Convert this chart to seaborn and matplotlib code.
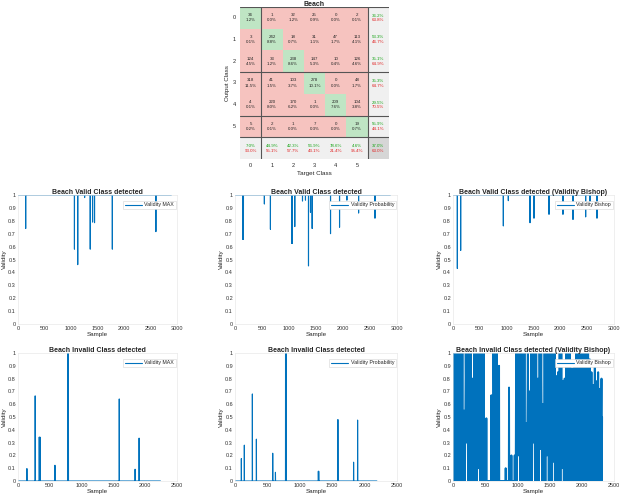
import numpy as np
import pandas as pd
import matplotlib
matplotlib.use("Agg")
import matplotlib.pyplot as plt
from matplotlib.colors import ListedColormap
import seaborn as sns


# =========================================
# DATA
# =========================================

classes = ["0", "1", "2", "3", "4", "5"]

# rows = output class, cols = target class
cm_counts = np.array([
    [34, 1, 32, 25, 0, 2],
    [3, 242, 18, 31, 47, 113],
    [124, 33, 238, 147, 10, 126],
    [318, 41, 103, 278, 0, 48],
    [4, 220, 170, 1, 209, 104],
    [5, 2, 1, 7, 0, 19],
])

y_ticks = [0, 0.1, 0.2, 0.3, 0.4, 0.5, 0.6, 0.7, 0.8, 0.9, 1]
y_tick_labels = ["0", "0.1", "0.2", "0.3", "0.4", "0.5", "0.6", "0.7", "0.8", "0.9", "1"]
x_ticks_valid = [0, 500, 1000, 1500, 2000, 2500, 3000]
x_ticks_invalid = [0, 500, 1000, 1500, 2000, 2500]

# valid class detected, baseline 1 with drops
max_valid_n = 2894
max_valid_idx = [145, 1065, 1127, 1257, 1363, 1407, 1444, 1780, 2602]
max_valid_val = [0.74, 0.58, 0.46, 0.98, 0.58, 0.79, 0.785, 0.58, 0.716]

prob_valid_n = 2877
prob_valid_idx = [145, 156, 544, 656, 1050, 1060, 1107, 1250, 1305, 1361,
                  1398, 1429, 1769, 1936, 2072, 2289, 2592]
prob_valid_val = [0.656, 0.656, 0.93, 0.734, 0.625, 0.625, 0.755, 0.953, 0.96, 0.45,
                  0.866, 0.74, 0.70, 0.75, 0.96, 0.86, 0.82]

bishop_valid_n = 2732
bishop_valid_idx = [81, 143, 938, 1031, 1435, 1509, 1789, 2049, 2236, 2472, 2552, 2683]
bishop_valid_val = [0.43, 0.57, 0.76, 0.956, 0.785, 0.82, 0.85, 0.85, 0.81, 0.83, 0.89, 0.82]

# invalid class detected, baseline 0 with peaks
max_invalid_n = 2240
max_invalid_idx = [140, 270, 334, 346, 581, 785, 792, 1592, 1841, 1904]
max_invalid_val = [0.097, 0.665, 0.343, 0.343, 0.123, 1.0, 1.0, 0.641, 0.092, 0.335]

prob_invalid_n = 2190
prob_invalid_idx = [98, 144, 268, 330, 582, 624, 780, 788, 1286, 1292, 1588, 1830, 1892]
prob_invalid_val = [0.175, 0.28, 0.68, 0.327, 0.217, 0.068, 1.0, 1.0, 0.076, 0.076, 0.48, 0.147, 0.476]

bishop_invalid_x = [
    0, 8, 16, 28, 40, 52, 64, 76, 88, 94, 114,
    120, 133, 146, 159, 172, 185, 198, 211, 224, 237, 250, 263, 276, 289, 302,
    315, 328, 341, 354, 367, 380, 393, 406, 419, 432, 445, 458, 471, 477, 484,
    515, 518, 521, 593, 596, 599, 622, 628, 640, 652, 664, 676, 688,
    712, 715, 718, 815, 818, 821, 867, 870, 873, 904, 907, 910, 955, 958, 961, 974,
    980, 993, 1006, 1019, 1032, 1045, 1058, 1071, 1084, 1097, 1110, 1123,
    1136, 1149, 1162, 1175, 1188, 1201, 1214, 1227, 1240, 1253, 1266, 1279, 1292,
    1305, 1318, 1331, 1344, 1357, 1370, 1383, 1396, 1409, 1422, 1435, 1448, 1461,
    1474, 1487, 1500, 1513,
    1526, 1539, 1552, 1565, 1578, 1591, 1604, 1617, 1630, 1643, 1656, 1669, 1682,
    1695, 1708, 1721, 1734, 1747, 1760, 1773, 1786, 1799, 1812, 1825, 1838,
    1851, 1864, 1877, 1890, 1903, 1916, 1929, 1942, 1955, 1968, 1981, 1994, 2007,
    2020, 2033, 2046, 2059, 2072, 2085, 2098, 2111, 2124,
    2137, 2150, 2163, 2176, 2189, 2202, 2215, 2228, 2241, 2254, 2267, 2280, 2293,
    2306, 2312, 2315,
]
bishop_invalid_y = [
    0.5, 0, 1, 0, 1, 0, 1, 0, 1, 0, 0,
    1, 0, 1, 0, 0.55, 0, 1, 0.3, 1, 0, 1, 0, 1, 0, 0.8,
    0, 1, 0, 1, 0, 1, 0.1, 1, 0, 1, 0, 1, 0, 1, 0,
    0, 0.49, 0, 0, 0.67, 0, 0, 1, 0, 1, 0, 1, 0,
    0, 0.9, 0, 0, 0.1, 0, 0, 0.73, 0, 0, 0.2, 0, 0, 0.2, 0, 0,
    1, 0, 1, 0.2, 1, 0, 1, 0, 1, 0, 1, 0,
    0.45, 0, 1, 0, 0.7, 0, 1, 0, 1, 0.3, 1, 0, 1,
    0, 0.8, 0, 1, 0.25, 1, 0, 0.6, 0, 1, 0, 1, 0.2,
    1, 0, 1, 0,
    1, 0, 1, 0.15, 1, 0, 0.82, 0, 0.85, 0, 1, 0, 1,
    0.1, 0.78, 0, 0.8, 0, 1, 0, 1, 0, 1, 0, 0.88,
    0, 0.88, 0, 0.9, 0, 1, 0, 1, 0, 1, 0, 1, 0,
    1, 0, 1, 0, 1, 0, 1, 0, 0.95,
    0, 0.85, 0, 0.75, 0, 0.9, 0, 0.78, 0, 0.85, 0, 0.72, 0,
    0.8, 0, 0.5,
]


# =========================================
# STYLE
# =========================================

sns.set_theme(style="white")
plt.rcParams["font.family"] = ["Liberation Sans", "DejaVu Sans"]

BLUE = "#0072BD"

fig = plt.figure(figsize=(6.2, 4.96), dpi=100)


def px_axes(left, top, right, bottom):
    return fig.add_axes([left / 620, 1 - bottom / 496,
                         (right - left) / 620, (bottom - top) / 496])


def spike_frame(n, base, idx, val):
    y = np.full(n, base, dtype=float)
    y[idx] = val
    return pd.DataFrame({"Sample": np.arange(n), "Validity": y})


def draw_panel(ax, df, title, label, xticks, lw=0.8):
    sns.lineplot(data=df, x="Sample", y="Validity", ax=ax, color=BLUE,
                 linewidth=lw, label=label, estimator=None)
    ax.set_xlim(xticks[0], xticks[-1])
    ax.set_ylim(0, 1)
    ax.set_xticks(xticks)
    ax.set_xticklabels([str(t) for t in xticks])
    ax.set_yticks(y_ticks)
    ax.set_yticklabels(y_tick_labels)
    ax.tick_params(labelsize=4, length=1.5, width=0.4, pad=1.5,
                   direction="in", colors="#333333")
    ax.set_title(title, fontsize=5, fontweight="bold", pad=0.5)
    ax.set_xlabel("Sample", fontsize=4.5, labelpad=1)
    ax.set_ylabel("Validity", fontsize=4.5, labelpad=0.5)
    for s in ax.spines.values():
        s.set_color("#e4e4e4")
        s.set_linewidth(0.4)
    leg = ax.legend(loc="upper right", bbox_to_anchor=(1.0, 0.965), fontsize=3.8,
                    frameon=True, fancybox=False, edgecolor="#d5d5d5", framealpha=1,
                    handlelength=3.2, borderpad=0.35, handletextpad=0.5,
                    borderaxespad=0.2)
    leg.get_frame().set_linewidth(0.4)
    for h in leg.get_lines():
        h.set_linewidth(0.8)


# =========================================
# CONFUSION MATRIX
# =========================================

ax_cm = px_axes(240, 7, 389, 159)

codes = np.zeros((7, 7))
for i in range(6):
    codes[i, i] = 1
codes[6, :] = 2
codes[:, 6] = 2
codes[6, 6] = 3

sns.heatmap(codes, ax=ax_cm, cmap=ListedColormap(["#f6c3bf", "#bfe5c4", "#f0f0f0", "#d6d6d6"]),
            vmin=-0.5, vmax=3.5, cbar=False, linewidths=0,
            xticklabels=classes + [""], yticklabels=classes + [""])

total = cm_counts.sum()
GREEN_TXT = "#13a313"
RED_TXT = "#e02020"
for i in range(6):
    for j in range(6):
        ax_cm.text(j + 0.5, i + 0.5,
                   f"{cm_counts[i, j]}\n{100 * cm_counts[i, j] / total:.1f}%",
                   ha="center", va="center", fontsize=3.2, linespacing=1.4)

row_sum = cm_counts.sum(axis=1)
col_sum = cm_counts.sum(axis=0)
diag = np.diag(cm_counts)
for i in range(6):
    p = 100 * diag[i] / row_sum[i]
    ax_cm.text(6.5, i + 0.4, f"{p:.1f}%", ha="center", va="center", fontsize=3.2, color=GREEN_TXT)
    ax_cm.text(6.5, i + 0.62, f"{100 - p:.1f}%", ha="center", va="center", fontsize=3.2, color=RED_TXT)
for j in range(6):
    r = 100 * diag[j] / col_sum[j]
    ax_cm.text(j + 0.5, 6.4, f"{r:.1f}%", ha="center", va="center", fontsize=3.2, color=GREEN_TXT)
    ax_cm.text(j + 0.5, 6.62, f"{100 - r:.1f}%", ha="center", va="center", fontsize=3.2, color=RED_TXT)
acc = 100 * diag.sum() / total
ax_cm.text(6.5, 6.4, f"{acc:.1f}%", ha="center", va="center", fontsize=3.2, color=GREEN_TXT)
ax_cm.text(6.5, 6.62, f"{100 - acc:.1f}%", ha="center", va="center", fontsize=3.2, color=RED_TXT)

for x in [1, 6]:
    ax_cm.axvline(x, color="#555555", linewidth=0.8)
for y in [0, 3, 5, 6]:
    ax_cm.axhline(y, color="#555555", linewidth=0.8)

ax_cm.tick_params(labelsize=4, length=0, pad=3)
ax_cm.set_yticklabels(classes + [""], rotation=0)
ax_cm.set_title("Beach", fontsize=5, fontweight="bold", pad=1)
ax_cm.set_xlabel("Target Class", fontsize=4.5, labelpad=2)
ax_cm.set_ylabel("Output Class", fontsize=4.5, labelpad=2)


# =========================================
# VALIDITY PANELS
# =========================================

ax1 = px_axes(18, 195, 177, 324)
draw_panel(ax1, spike_frame(max_valid_n, 1, max_valid_idx, max_valid_val),
           "Beach Valid Class detected", "Validity MAX", x_ticks_valid)

ax2 = px_axes(235, 195, 397, 324)
draw_panel(ax2, spike_frame(prob_valid_n, 1, prob_valid_idx, prob_valid_val),
           "Beach Valid Class detected", "Validity Probability", x_ticks_valid)

ax3 = px_axes(453, 195, 614, 324)
draw_panel(ax3, spike_frame(bishop_valid_n, 1, bishop_valid_idx, bishop_valid_val),
           "Beach Valid Class detected (Validity Bishop)", "Validity Bishop", x_ticks_valid)

ax4 = px_axes(18, 353, 177, 481)
draw_panel(ax4, spike_frame(max_invalid_n, 0, max_invalid_idx, max_invalid_val),
           "Beach Invalid Class detected", "Validity MAX", x_ticks_invalid)

ax5 = px_axes(235, 353, 397, 481)
draw_panel(ax5, spike_frame(prob_invalid_n, 0, prob_invalid_idx, prob_invalid_val),
           "Beach Invalid Class detected", "Validity Probability", x_ticks_invalid)

ax6 = px_axes(453, 353, 614, 481)
draw_panel(ax6, pd.DataFrame({"Sample": bishop_invalid_x, "Validity": bishop_invalid_y}),
           "Beach Invalid Class detected (Validity Bishop)", "Validity Bishop",
           x_ticks_invalid, lw=1.4)

fig.savefig("out.png", dpi=100)
